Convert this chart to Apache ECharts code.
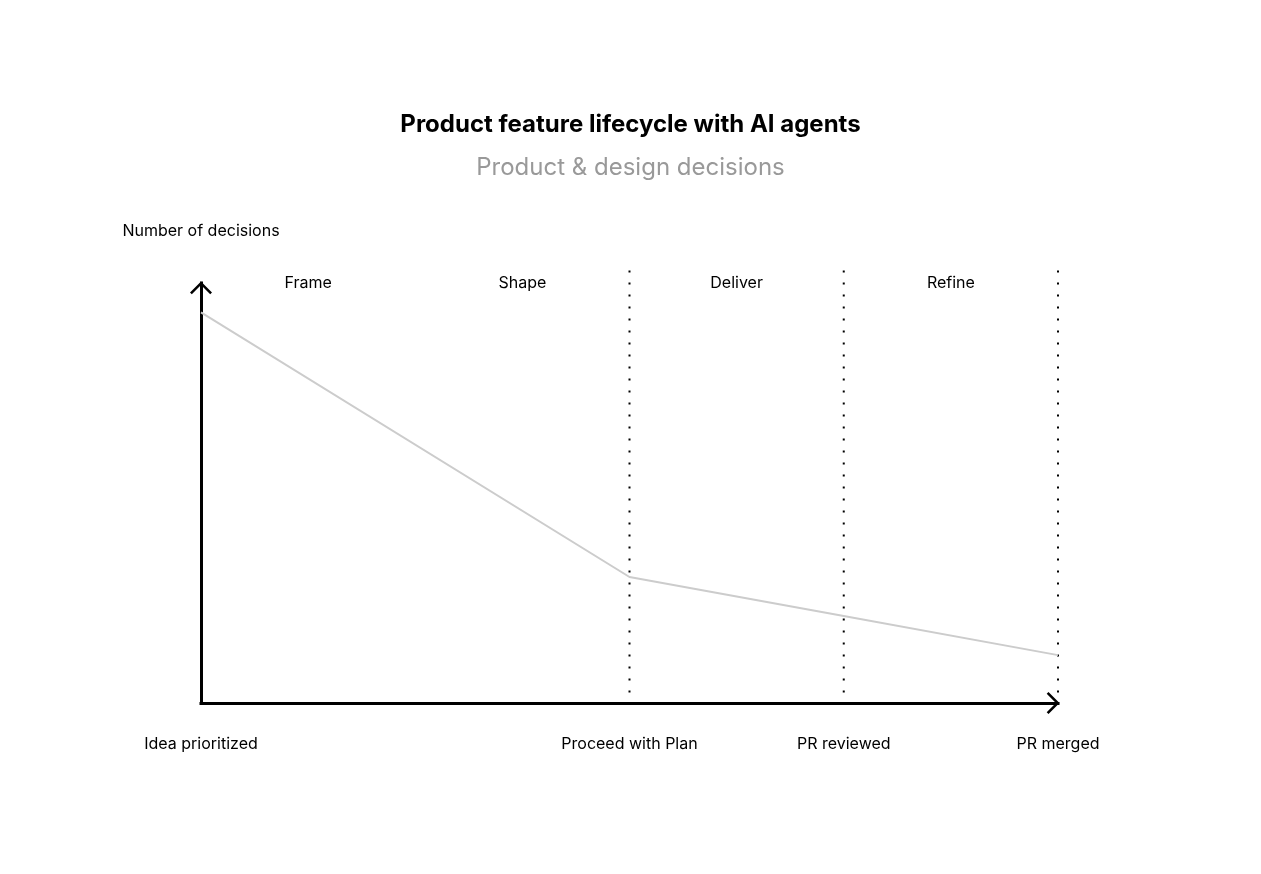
<!DOCTYPE html>
<html>
<head>
<meta charset="utf-8">
<title>Product feature lifecycle with AI agents</title>
<script src="https://cdn.jsdelivr.net/npm/echarts@6/dist/echarts.min.js"></script>
<style>
  html, body { margin: 0; padding: 0; background: #fff; }
  #chart { width: 1261px; height: 874px; }
</style>
</head>
<body>
<div id="chart"></div>
<script>
// Milestones along the lifecycle (x position in steps) and their labels
const milestoneStep = [0, 2, 3, 4];
const milestoneNames = ['Idea prioritized', 'Proceed with Plan', 'PR reviewed', 'PR merged'];
// Number of product & design decisions remaining at each milestone (0–100 scale)
const decisions = [93, 30, 20.7, 11.4];
// Phases between milestones
const phaseNames = ['Frame', 'Shape', 'Deliver', 'Refine'];
const phaseCenter = [0.5, 1.5, 2.5, 3.5];
// Steps that get a dotted divider
const dividerStep = [2, 3, 4];

const FONT = 'Inter, "Noto Sans", sans-serif';
// open chevron used as the axis arrow head (points up before rotation)
const CHEVRON = 'path://M11,0 L22,11 L20.2,12.8 L11,3.6 L1.8,12.8 L0,11 Z';

const chart = echarts.init(document.getElementById('chart'), null, { renderer: 'canvas' });

const stepToName = {};
milestoneStep.forEach((s, i) => { stepToName[s] = milestoneNames[i]; });

const axisLine = {
  show: true,
  symbol: ['none', CHEVRON],
  symbolSize: [22, 12.8],
  symbolOffset: [0, -4.9],
  lineStyle: { color: '#000', width: 3, cap: 'square' }
};

chart.setOption({
  animation: false,
  backgroundColor: '#fff',
  title: [
    {
      text: 'Product feature lifecycle with AI agents',
      left: 'center',
      top: 108,
      textStyle: { fontFamily: FONT, fontSize: 24, fontWeight: 700, color: '#000' }
    },
    {
      text: 'Product & design decisions',
      left: 'center',
      top: 151,
      textStyle: { fontFamily: FONT, fontSize: 24, fontWeight: 400, color: '#999999' }
    }
  ],
  grid: { left: 201, right: 203, top: 283, bottom: 171, containLabel: false },
  xAxis: {
    type: 'value',
    min: 0,
    max: 4,
    interval: 1,
    axisLine: axisLine,
    axisTick: { show: false },
    splitLine: { show: false },
    axisLabel: {
      show: true,
      margin: 33,
      showMinLabel: true,
      showMaxLabel: true,
      fontFamily: FONT,
      fontSize: 16,
      color: '#000',
      formatter: v => stepToName[v] || ''
    }
  },
  yAxis: {
    type: 'value',
    min: 0,
    max: 100,
    name: 'Number of decisions',
    nameLocation: 'end',
    nameGap: 44,
    nameTextStyle: { fontFamily: FONT, fontSize: 16, color: '#000', align: 'center' },
    axisLine: axisLine,
    axisTick: { show: false },
    splitLine: { show: false },
    axisLabel: { show: false }
  },
  series: [
    {
      name: 'Decisions',
      type: 'line',
      data: milestoneStep.map((s, i) => [s, decisions[i]]),
      symbol: 'none',
      clip: false,
      lineStyle: { color: '#cccccc', width: 2 },
      z: 2
    },
    {
      name: 'Dividers',
      type: 'custom',
      data: dividerStep.map(s => [s, 0]),
      clip: false,
      z: 1,
      renderItem: (params, api) => {
        const x = api.value(0);
        const p0 = api.coord([x, 2.5]);
        const p1 = api.coord([x, 103.3]);
        return {
          type: 'line',
          shape: { x1: p0[0], y1: p0[1], x2: p1[0], y2: p1[1] },
          style: { stroke: '#000', lineWidth: 2, lineDash: [2, 10] }
        };
      }
    },
    {
      name: 'Phases',
      type: 'custom',
      data: phaseCenter.map((c, i) => [c, 100, phaseNames[i]]),
      clip: false,
      renderItem: (params, api) => {
        const p = api.coord([api.value(0), api.value(1)]);
        return {
          type: 'text',
          x: p[0],
          y: p[1],
          style: {
            text: phaseNames[params.dataIndex],
            align: 'center',
            verticalAlign: 'middle',
            fontFamily: FONT,
            fontSize: 16,
            fill: '#000'
          }
        };
      }
    }
  ]
});
</script>
</body>
</html>
